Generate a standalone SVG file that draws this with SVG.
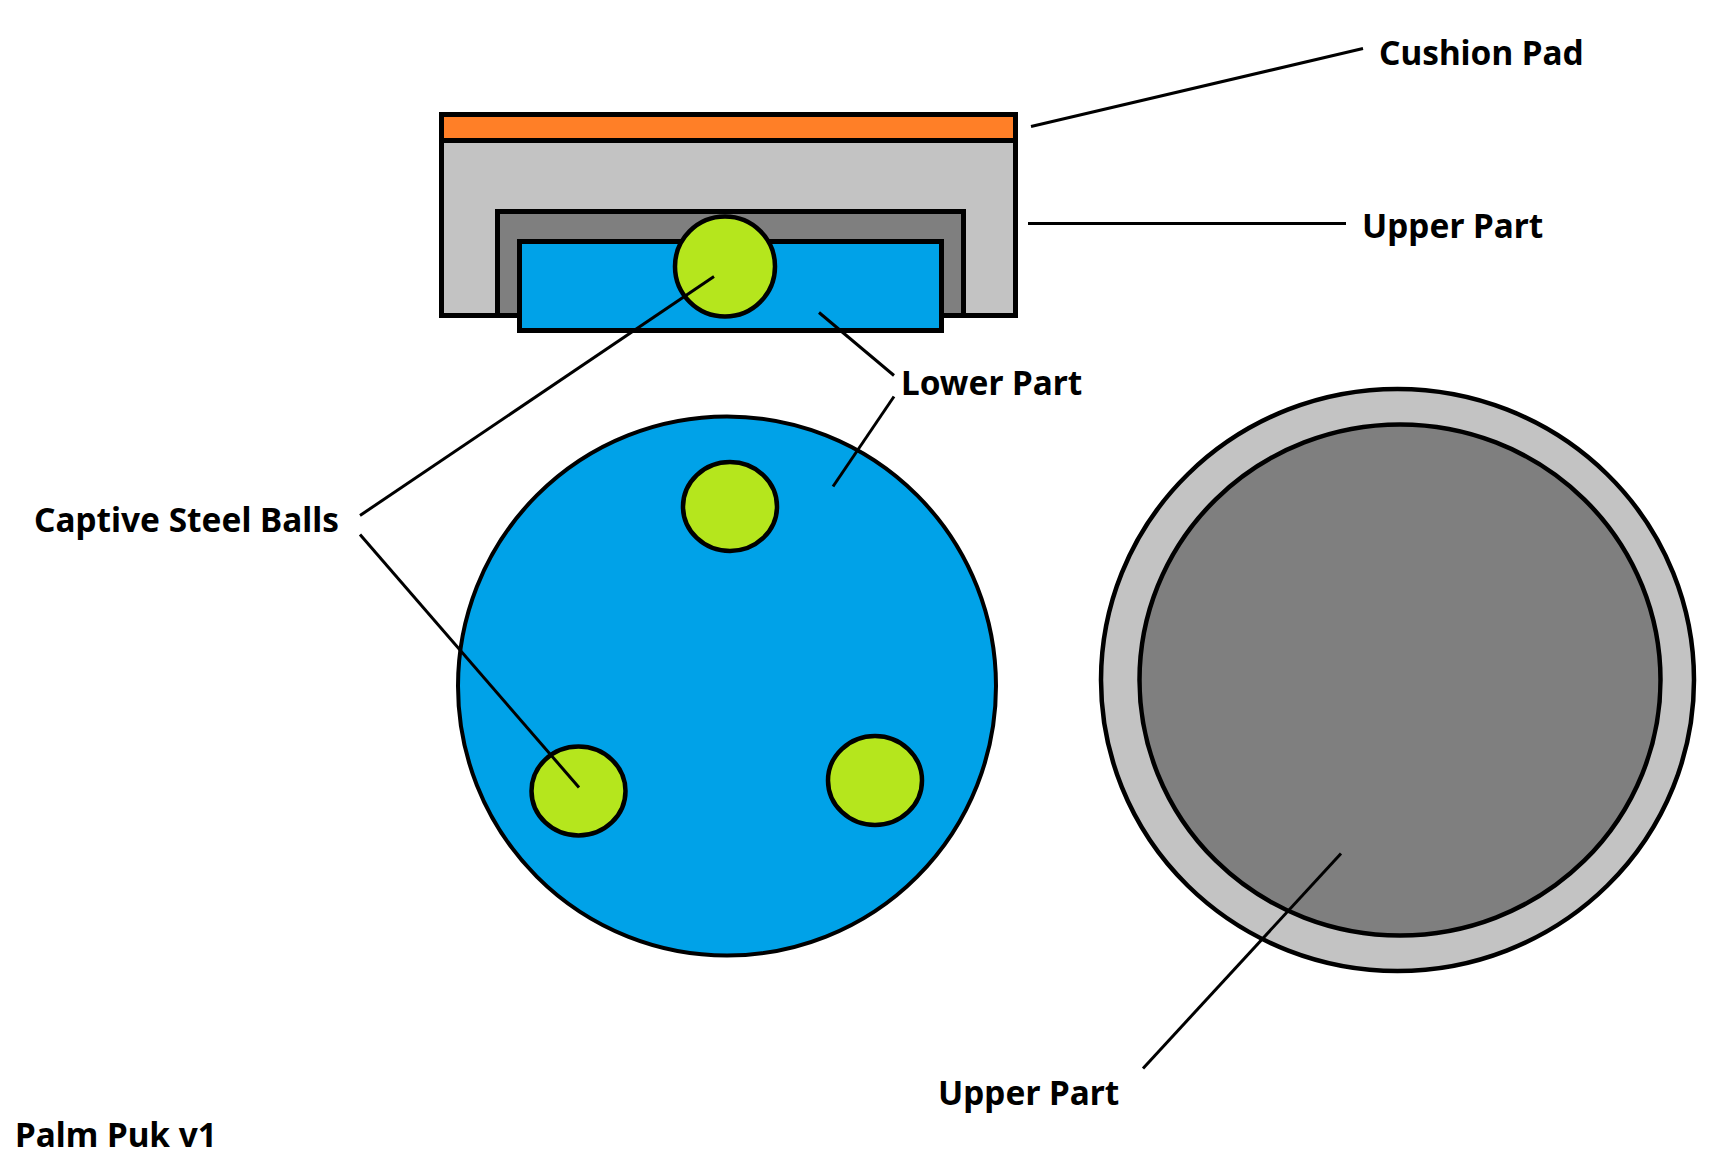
<svg xmlns="http://www.w3.org/2000/svg" width="1724" height="1165" viewBox="0 0 1724 1165">
<style>
.s{stroke:#000;stroke-width:5}
.t{font-family:"Noto Sans","Open Sans",sans-serif;font-weight:700;font-size:33.4px;fill:#000}
.l{stroke:#000;stroke-width:3;fill:none}
.ball{fill:#b5e61d;stroke:#000;stroke-width:4.5}
</style>
<rect width="1724" height="1165" fill="#fff"/>
<g id="side-upper-part">
<rect class="s" x="441.500" y="114.500" width="574" height="201" fill="#c3c3c3"/>
<rect class="s" x="497.500" y="211.500" width="466" height="104" fill="#7f7f7f"/>
</g>
<g id="side-cushion-pad"><rect class="s" x="441.500" y="114.500" width="574" height="26" fill="#ff7f27"/></g>
<g id="side-lower-part"><rect class="s" x="519.500" y="241.500" width="422" height="89" fill="#00a2e8"/></g>
<g id="side-ball"><circle class="ball" cx="725" cy="266.500" r="50"/></g>
<g id="top-lower-part"><ellipse cx="727" cy="686" rx="269" ry="269.500" fill="#00a2e8" stroke="#000" stroke-width="4"/></g>
<g id="top-ball-1"><ellipse class="ball" cx="730" cy="506.500" rx="47" ry="44.500"/></g>
<g id="top-ball-2"><ellipse class="ball" cx="578.500" cy="791" rx="47" ry="44.500"/></g>
<g id="top-ball-3"><ellipse class="ball" cx="875" cy="780.500" rx="47" ry="44.500"/></g>
<g id="top-upper-part">
<ellipse cx="1397.500" cy="680" rx="296.500" ry="291" fill="#c3c3c3" stroke="#000" stroke-width="4.500"/>
<ellipse cx="1400" cy="680" rx="260.500" ry="255.500" fill="#7f7f7f" stroke="#000" stroke-width="4.500"/>
</g>
<g id="connectors">
<path class="l" d="M1031 126.500L1363 48.500"/>
<path class="l" d="M1028 223.500H1346"/>
<path class="l" d="M819 312.500L894 375.500"/>
<path class="l" d="M894 396.500L833 486.500"/>
<path class="l" d="M714 276.500L360 515.500"/>
<path class="l" d="M360 534.500L579 787.500"/>
<path class="l" d="M1341 853.500L1143 1068.500"/>
</g>
<g id="labels">
<text class="t" x="1379" y="64.500">Cushion Pad</text>
<text class="t" x="1362" y="237.500">Upper Part</text>
<text class="t" x="901" y="394.500">Lower Part</text>
<text class="t" x="34" y="531.500">Captive Steel Balls</text>
<text class="t" x="938" y="1104.500">Upper Part</text>
<text class="t" x="15" y="1147">Palm Puk v1</text>
</g>
</svg>
